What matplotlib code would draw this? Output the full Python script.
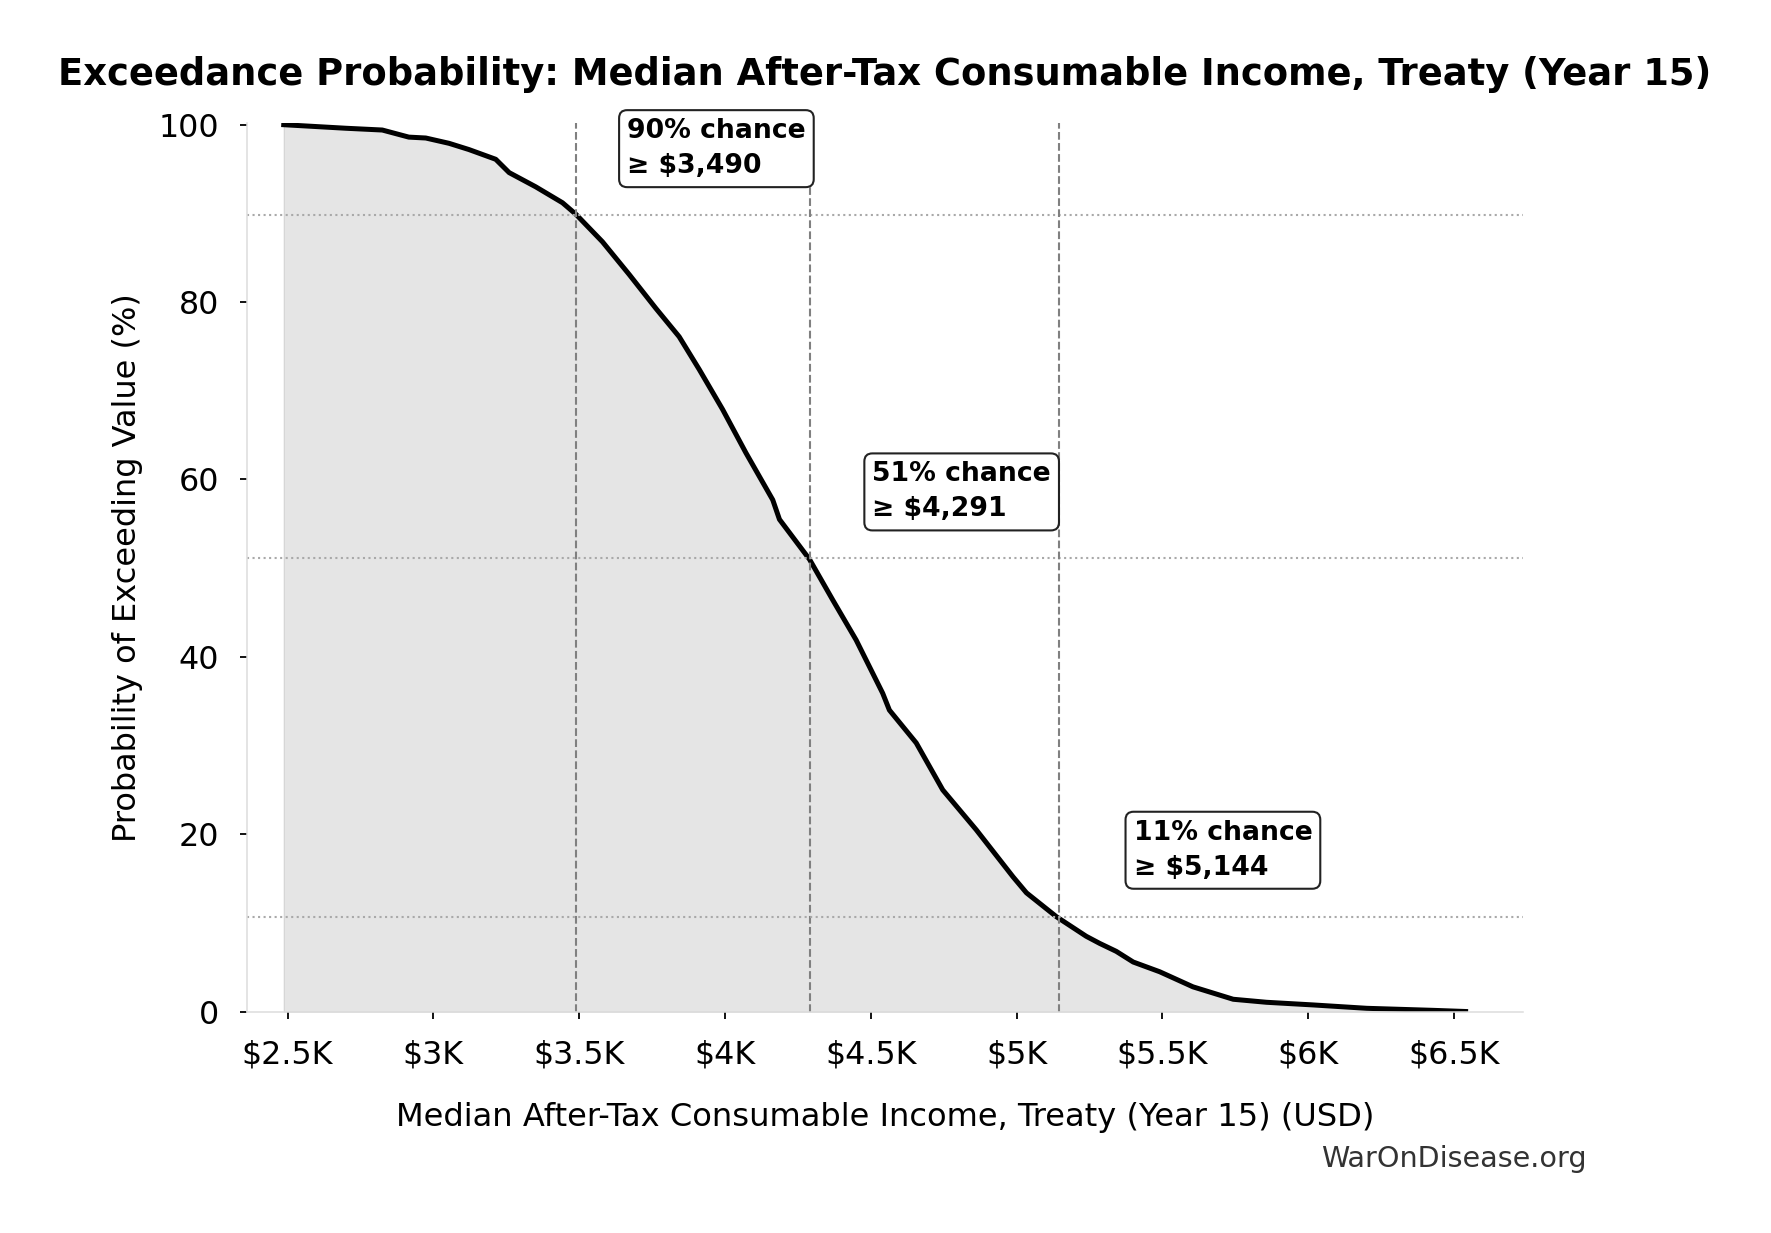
import matplotlib
matplotlib.use("Agg")
import matplotlib.pyplot as plt
from matplotlib.ticker import FuncFormatter

# exceedance curve (income in USD, probability in %)
income = [2487, 2700, 2825, 2916, 2974, 3054, 3122, 3214, 3260, 3351, 3443, 3489,
          3580, 3672, 3763, 3843, 3912, 3992, 4072, 4164, 4187, 4290, 4370, 4450,
          4541, 4564, 4656, 4747, 4862, 4988, 5034, 5137, 5239, 5285, 5342, 5400,
          5491, 5605, 5743, 5857, 6017, 6201, 6429, 6540]
prob = [100, 99.6, 99.4, 98.6, 98.5, 97.9, 97.2, 96.1, 94.6, 93.0, 91.2, 89.9,
        86.8, 83.1, 79.3, 76.1, 72.4, 67.9, 63.0, 57.7, 55.5, 51.0, 46.4, 41.9,
        35.9, 34.0, 30.3, 25.0, 20.5, 15.2, 13.4, 10.7, 8.5, 7.7, 6.8, 5.6,
        4.5, 2.8, 1.4, 1.06, 0.76, 0.38, 0.15, 0.02]

# marked thresholds
thr_values = [3490, 4291, 5144]
thr_probs = [89.8, 51.1, 10.7]

fig = plt.figure(figsize=(17.71, 12.33), dpi=100)
ax = fig.add_axes([0.1393, 0.1795, 0.7207, 0.7208])

ax.fill_between(income, prob, 0, color="gray", alpha=0.2)
ax.plot(income, prob, color="black", linewidth=3.6)

for v, p in zip(thr_values, thr_probs):
    ax.axvline(v, color="gray", linestyle="--", linewidth=1.5)
    ax.axhline(p, color="darkgray", linestyle=":", linewidth=1.5)
    ax.text(v * 1.05, p + 7.5, f"{p:.0f}% chance\n≥ ${v:,.0f}",
            fontsize=19.2, fontweight="bold", va="center", ha="left",
            linespacing=1.45,
            bbox=dict(boxstyle="round,pad=0.3", facecolor="white",
                      edgecolor="#222222", linewidth=1.5))

ax.set_xlim(2360, 6737)
ax.set_ylim(0, 100.2)
ax.set_yticks([0, 20, 40, 60, 80, 100])
ax.xaxis.set_major_formatter(FuncFormatter(lambda v, _: f"${v / 1000:g}K"))
ax.tick_params(labelsize=22.9, length=5, width=1.3, pad=15)

for s in ["top", "right"]:
    ax.spines[s].set_visible(False)
for s in ["left", "bottom"]:
    ax.spines[s].set_color("#dddddd")
    ax.spines[s].set_linewidth(1.1)

ax.set_xlabel("Median After-Tax Consumable Income, Treaty (Year 15) (USD)",
              fontsize=23.1, labelpad=22.5)
ax.set_ylabel("Probability of Exceeding Value (%)", fontsize=23, labelpad=11)
ax.set_title("Exceedance Probability: Median After-Tax Consumable Income, Treaty (Year 15)",
             fontsize=26.6, fontweight="bold", pad=27)

fig.text(0.8961, 0.0538, "WarOnDisease.org", fontsize=20.6, color="#333333",
         ha="right", va="baseline")

fig.savefig("out.png", dpi=100)
